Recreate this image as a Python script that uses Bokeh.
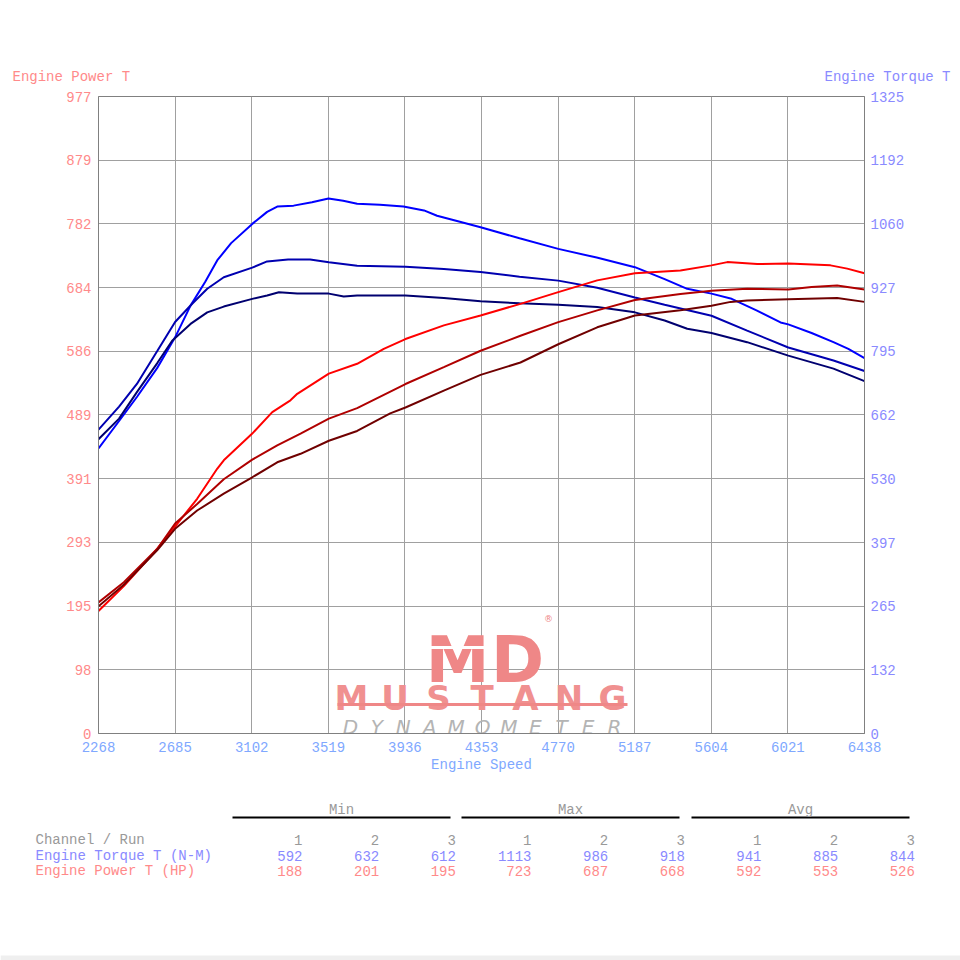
from bokeh.plotting import figure
from bokeh.models import Range1d, LinearAxis, FixedTicker
from bokeh.layouts import column, row
from bokeh.core.properties import value
from bokeh.embed import file_html
from bokeh.resources import INLINE

# ---------------- data ----------------
X_TICKS = [2268, 2685, 3102, 3519, 3936, 4353, 4770, 5187, 5604, 6021, 6438]
HP_TICKS = [0, 98, 195, 293, 391, 489, 586, 684, 782, 879, 977]
TQ_TICKS = [0, 132, 265, 397, 530, 662, 795, 927, 1060, 1192, 1325]

tq1_rpm = [2268, 2380, 2477, 2587, 2685, 2769, 2850, 2914, 2990, 3105, 3186, 3241, 3330, 3430, 3520,
           3600, 3676, 3800, 3928, 4040, 4111, 4230, 4348, 4560, 4771, 4980, 5188, 5350, 5473, 5605,
           5709, 5850, 5981, 6023, 6150, 6269, 6350, 6438]
tq1_val = [593, 650, 700, 760, 824, 890, 940, 984, 1020, 1060, 1085, 1096, 1098, 1105, 1113,
           1108, 1102, 1100, 1096, 1088, 1077, 1065, 1053, 1030, 1008, 990, 970, 945, 925, 915,
           905, 880, 855, 851, 833, 814, 800, 781]

tq2_rpm = [2268, 2380, 2477, 2587, 2685, 2778, 2860, 2950, 3105, 3186, 3300, 3420, 3522, 3676, 3939,
           4148, 4348, 4560, 4771, 4983, 5188, 5350, 5605, 5799, 6023, 6269, 6438]
tq2_val = [632, 680, 727, 795, 856, 894, 925, 949, 969, 982, 986, 986, 980, 973, 971,
           966, 960, 950, 942, 927, 907, 892, 869, 838, 803, 776, 754]

tq3_rpm = [2268, 2380, 2477, 2587, 2669, 2769, 2860, 2950, 3105, 3186, 3250, 3350, 3522, 3603, 3676,
           3939, 4148, 4348, 4560, 4771, 4983, 5188, 5350, 5473, 5605, 5799, 6023, 6269, 6438]
tq3_val = [612, 655, 710, 770, 817, 852, 876, 888, 904, 911, 918, 915, 915, 909, 911,
           911, 906, 899, 895, 892, 887, 876, 859, 842, 833, 814, 786, 759, 733]

hp1_rpm = [2268, 2406, 2587, 2678, 2805, 2914, 2950, 3105, 3214, 3313, 3350, 3522, 3676, 3821, 3939,
           4148, 4348, 4565, 4771, 4983, 5188, 5436, 5605, 5691, 5854, 6023, 6253, 6344, 6438]
hp1_val = [188, 226, 283, 315, 360, 406, 419, 460, 493, 511, 521, 552, 567, 590, 605,
           626, 641, 659, 677, 695, 706, 710, 718, 723, 720, 721, 718, 713, 706]

hp2_rpm = [2268, 2406, 2587, 2685, 2805, 2950, 3105, 3241, 3368, 3522, 3676, 3939, 4148, 4348, 4565,
           4771, 4983, 5188, 5436, 5605, 5799, 6023, 6150, 6289, 6438]
hp2_val = [201, 232, 283, 322, 352, 390, 420, 442, 460, 483, 499, 536, 562, 587, 610,
           631, 649, 665, 674, 679, 682, 681, 685, 687, 681]

hp3_rpm = [2268, 2406, 2587, 2685, 2805, 2950, 3105, 3241, 3368, 3522, 3676, 3856, 3939, 4148, 4348,
           4565, 4771, 4983, 5188, 5436, 5605, 5709, 5799, 6023, 6289, 6438]
hp3_val = [195, 228, 281, 314, 342, 368, 393, 416, 429, 449, 464, 491, 500, 526, 550,
           569, 597, 623, 641, 649, 656, 662, 664, 666, 668, 662]

STAT_NAMES = ["Min", "Max", "Avg"]
RUN_NAMES = ["1", "2", "3"]
TQ_STATS = [[592, 632, 612], [1113, 986, 918], [941, 885, 844]]
HP_STATS = [[188, 201, 195], [723, 687, 668], [592, 553, 526]]

ROW_HEADER = "Channel / Run"
TQ_NAME = "Engine Torque T (N-M)"
HP_NAME = "Engine Power T (HP)"

# ---------------- style ----------------
MONO = value("Liberation Mono")
FS = "14px"
RED_TXT = "#ff8a8a"
BLUE_TXT = "#8a8aff"
XBLUE_TXT = "#80a8ff"
GRAY_TXT = "#999999"
W = 960
FL, FT, FW, FH = 98, 96, 766, 637   # plot frame on the page
HEAD_H = 88
CHART_H = 700
TAB_H = W - HEAD_H - CHART_H


def bare(h):
    f = figure(width=W, height=h, output_backend="svg", toolbar_location=None,
               x_range=Range1d(0, W), y_range=Range1d(h, 0),
               min_border=0, outline_line_color=None)
    f.axis.visible = False
    f.grid.visible = False
    return f

# ---------------- header ----------------
head = bare(HEAD_H)
head.text(x=[12], y=[76], text=["Engine Power T"], text_align="left", text_baseline="middle",
          text_font=MONO, text_font_size=FS, text_color=RED_TXT)
head.text(x=[950], y=[76], text=["Engine Torque T"], text_align="right", text_baseline="middle",
          text_font=MONO, text_font_size=FS, text_color=BLUE_TXT)

# ---------------- chart ----------------
p = figure(width=W, height=CHART_H, output_backend="svg", toolbar_location=None,
           x_range=Range1d(X_TICKS[0], X_TICKS[-1]), y_range=Range1d(HP_TICKS[0], HP_TICKS[-1]),
           min_border_left=FL, min_border_right=W - FL - FW,
           min_border_top=FT - HEAD_H, min_border_bottom=CHART_H - (FT - HEAD_H) - FH)
p.extra_y_ranges = {"tq": Range1d(TQ_TICKS[0], TQ_TICKS[-1])}
p.add_layout(LinearAxis(y_range_name="tq"), "right")
p.outline_line_color = "#808080"

p.xaxis.ticker = FixedTicker(ticks=X_TICKS)
p.yaxis[0].ticker = FixedTicker(ticks=HP_TICKS)
p.yaxis[1].ticker = FixedTicker(ticks=TQ_TICKS)
p.xgrid.ticker = FixedTicker(ticks=X_TICKS)
p.ygrid.ticker = FixedTicker(ticks=HP_TICKS)
p.grid.grid_line_color = "#a0a0a0"
p.grid.grid_line_width = 1

for ax in p.axis:
    ax.major_tick_line_color = None
    ax.minor_tick_line_color = None
    ax.major_tick_in = 0
    ax.major_tick_out = 0
    ax.axis_line_color = "#808080"
    ax.major_label_text_font = "Liberation Mono"
    ax.major_label_text_font_size = FS
p.yaxis[0].major_label_text_color = RED_TXT
p.yaxis[0].major_label_standoff = 7
p.yaxis[1].major_label_text_color = BLUE_TXT
p.yaxis[1].major_label_standoff = 6
p.xaxis.major_label_text_color = XBLUE_TXT
p.xaxis.major_label_standoff = 8
p.xaxis.axis_label = "Engine Speed"
p.xaxis.axis_label_text_font = "Liberation Mono"
p.xaxis.axis_label_text_font_size = FS
p.xaxis.axis_label_text_font_style = "normal"
p.xaxis.axis_label_text_color = XBLUE_TXT
p.xaxis.axis_label_standoff = 2

# ---------------- logo (decoration) ----------------
def dx(px):
    return X_TICKS[0] + (px - FL) * (X_TICKS[-1] - X_TICKS[0]) / FW

def dy(py):
    return (FT + FH - py) * HP_TICKS[-1] / FH

LOGO_RED = "#ef8787"
p.text(x=[dx(457), dx(517)], y=[dy(659), dy(659)], text=["M", "D"], text_align="center",
       text_baseline="alphabetic", text_font=value("DejaVu Sans"), text_font_style="bold",
       text_font_size="64px", text_color=LOGO_RED)
p.line(x=[dx(425), dx(493)], y=[dy(647), dy(647)], line_color="white", line_width=3)
p.text(x=[dx(548)], y=[dy(618)], text=["®"], text_align="center", text_baseline="middle",
       text_font=value("DejaVu Sans"), text_font_size="9px", text_color=LOGO_RED)
must = list("MUSTANG")
step = (612 - 351) / (len(must) - 1)
p.text(x=[dx(351 + i * step) for i in range(len(must))], y=[dy(697)] * len(must), text=must,
       text_align="center", text_baseline="alphabetic", text_font=value("DejaVu Sans"),
       text_font_style="bold", text_font_size="34px", text_color="#f09090")
p.line(x=[dx(337), dx(627)], y=[dy(704), dy(704)], line_color=LOGO_RED, line_width=3)
dyn = list("DYNAMOMETER")
step2 = (614 - 350) / (len(dyn) - 1)
p.text(x=[dx(350 + i * step2) for i in range(len(dyn))], y=[dy(726)] * len(dyn), text=dyn,
       text_align="center", text_baseline="alphabetic", text_font=value("DejaVu Sans"),
       text_font_style="italic", text_font_size="20px", text_color="#b4b4b4")

# ---------------- curves ----------------
p.line(tq1_rpm, tq1_val, y_range_name="tq", line_color="#0000ff", line_width=2)
p.line(tq2_rpm, tq2_val, y_range_name="tq", line_color="#0000b0", line_width=2)
p.line(tq3_rpm, tq3_val, y_range_name="tq", line_color="#000070", line_width=2)
p.line(hp1_rpm, hp1_val, line_color="#ff0000", line_width=2)
p.line(hp2_rpm, hp2_val, line_color="#b00000", line_width=2)
p.line(hp3_rpm, hp3_val, line_color="#700000", line_width=2)

# ---------------- table ----------------
tab = bare(TAB_H)
T0 = HEAD_H + CHART_H

def ty(py):
    return py - T0

groups = [232, 461, 691]
for gi, g in enumerate(groups):
    tab.line(x=[g, g + 218], y=[ty(817), ty(817)], line_color="black", line_width=2)
    tab.text(x=[g + 109], y=[ty(809)], text=[STAT_NAMES[gi]], text_align="center",
             text_baseline="middle", text_font=MONO, text_font_size=FS, text_color=GRAY_TXT)
    xs = [g + 70 + 76.7 * i for i in range(3)]
    tab.text(x=xs, y=[ty(839)] * 3, text=RUN_NAMES, text_align="right", text_baseline="middle",
             text_font=MONO, text_font_size=FS, text_color=GRAY_TXT)
    tab.text(x=xs, y=[ty(855)] * 3, text=[str(v) for v in TQ_STATS[gi]], text_align="right",
             text_baseline="middle", text_font=MONO, text_font_size=FS, text_color=BLUE_TXT)
    tab.text(x=xs, y=[ty(870)] * 3, text=[str(v) for v in HP_STATS[gi]], text_align="right",
             text_baseline="middle", text_font=MONO, text_font_size=FS, text_color=RED_TXT)

tab.text(x=[35] * 3, y=[ty(839), ty(855), ty(870)], text=[ROW_HEADER, TQ_NAME, HP_NAME],
         text_align="left", text_baseline="middle", text_font=MONO, text_font_size=FS,
         text_color=[GRAY_TXT, BLUE_TXT, RED_TXT])

# faint page-edge band at the bottom
tab.quad(left=[0], right=[W], top=[ty(955)], bottom=[ty(960)], fill_color="#efefef",
         line_color=None)

layout = column(row(head), p, row(tab), spacing=0)
open("out.html", "w").write(file_html(layout, INLINE))
